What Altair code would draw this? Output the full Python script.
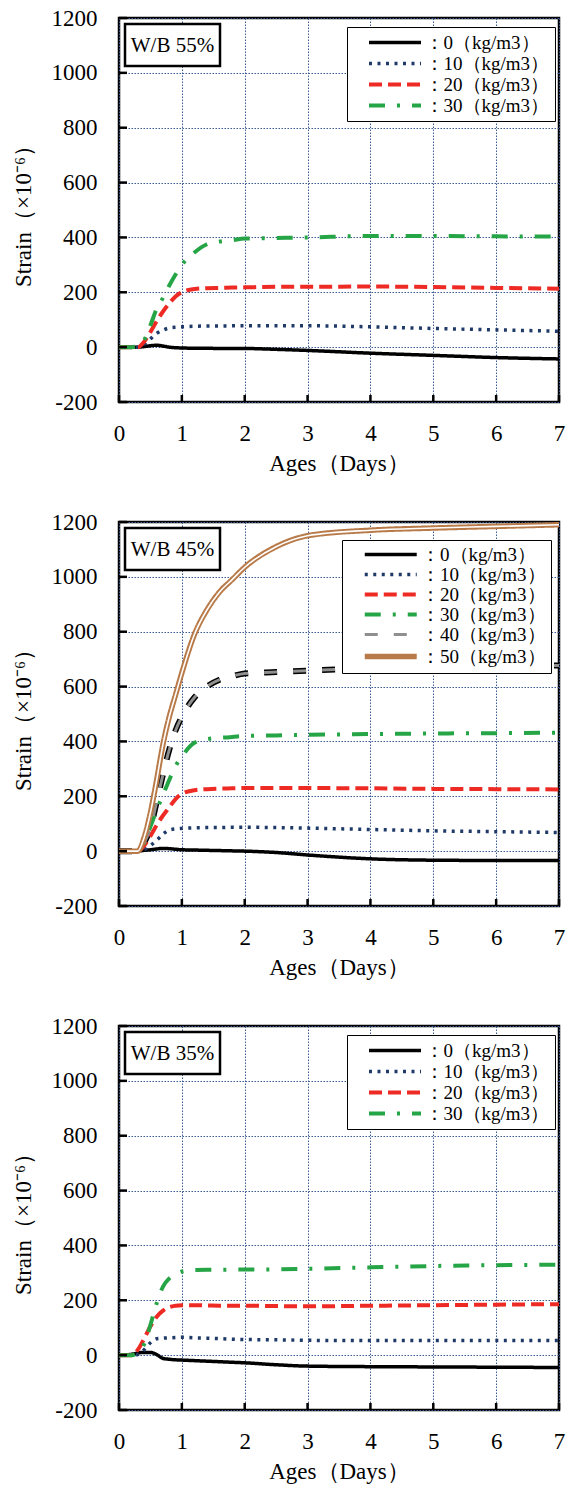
import altair as alt
import pandas as pd

# ---------------- data ----------------
DAYS = [0, 0.2, 0.3, 0.4, 0.5, 0.6, 0.7, 0.8, 0.9, 1.0, 1.2, 1.4, 1.6, 1.8, 2.0, 2.5, 3.0, 4.0, 5.0, 6.0, 7.0]
DOSAGES = ["0", "10", "20", "30", "40", "50"]
SERIES_LABELS = ["：0（kg/m3）", "：10（kg/m3）", "：20（kg/m3）", "：30（kg/m3）", "：40（kg/m3）", "：50（kg/m3）"]
PANEL_TITLES = ["W/B 55%", "W/B 45%", "W/B 35%"]
X_TICKS = [0, 1, 2, 3, 4, 5, 6, 7]
Y_TICKS = [-200, 0, 200, 400, 600, 800, 1000, 1200]

# W/B 55%
WB55_S0 = [0, 0, 0, 2, 5, 7, 4, 0, -2, -3, -4, -4, -5, -5, -5, -8, -12, -22, -30, -38, -43]
WB55_S10 = [0, 0, 0, 10, 30, 50, 62, 70, 73, 74, 76, 77, 77, 78, 78, 78, 78, 74, 68, 63, 58]
WB55_S20 = [0, 0, 0, 20, 55, 95, 130, 160, 185, 200, 212, 215, 216, 217, 218, 220, 220, 221, 219, 216, 213]
WB55_S30 = [0, 0, 5, 25, 80, 140, 180, 225, 265, 300, 345, 375, 385, 390, 396, 398, 400, 405, 405, 404, 403]

# W/B 45%
WB45_S0 = [0, 0, 0, 3, 5, 8, 10, 9, 7, 5, 4, 3, 2, 1, 0, -5, -14, -28, -33, -34, -34]
WB45_S10 = [0, 0, 0, 5, 20, 40, 62, 77, 81, 83, 85, 86, 86, 87, 87, 86, 84, 79, 74, 71, 68]
WB45_S20 = [0, 0, 0, 20, 55, 95, 130, 160, 190, 209, 222, 226, 228, 229, 230, 230, 230, 229, 227, 226, 225]
WB45_S30 = [0, 0, 0, 30, 90, 150, 205, 260, 310, 345, 395, 408, 413, 416, 420, 422, 424, 427, 429, 430, 432]
WB45_S40 = [0, 0, 0, 30, 85, 180, 280, 370, 440, 490, 560, 600, 625, 638, 648, 653, 658, 666, 670, 674, 677]
WB45_S50 = [0, 0, 0, 50, 140, 260, 390, 490, 570, 650, 790, 880, 945, 990, 1035, 1110, 1150, 1170, 1178, 1184, 1190]

# W/B 35%
WB35_S0 = [0, 3, 8, 10, 10, 2, -12, -15, -17, -18, -20, -22, -24, -26, -28, -35, -40, -42, -43, -44, -45]
WB35_S10 = [0, 0, 2, 20, 45, 60, 62, 63, 64, 65, 63, 62, 60, 58, 57, 56, 54, 53, 53, 53, 53]
WB35_S20 = [0, 0, 20, 60, 105, 140, 162, 175, 180, 182, 182, 181, 180, 180, 180, 179, 178, 180, 182, 184, 186]
WB35_S30 = [0, 0, 10, 40, 110, 190, 250, 280, 295, 305, 310, 311, 311, 312, 312, 313, 315, 320, 325, 328, 330]

# ---------------- styles ----------------
COLORS = {"0": "#000000", "10": "#1f3a68", "20": "#ee2a24", "30": "#26a546", "40": "#8f8f8f", "50": "#b87a48"}
DASHES = {"0": [1, 0], "10": [3, 5.5], "20": [13, 6], "30": [16, 12, 3, 12], "40": [13, 16], "50": [1, 0]}
WIDTHS = {"0": 3.5, "10": 3.5, "20": 4, "30": 4, "40": 3, "50": 5.5}

SERIF = "Liberation Serif"
PW, PH = 440, 384


def make_panel(title, series_list, legend_x, legend_y, sym_root, sym_half, sym_off, lab_off):
    rows = []
    for dos, vals in series_list:
        lab = SERIES_LABELS[DOSAGES.index(dos)]
        for d, v in zip(DAYS, vals):
            rows.append({"day": d, "strain": v, "series": lab, "dos": dos})
    df = pd.DataFrame(rows)
    doses = [d for d, _ in series_list]
    labs = [SERIES_LABELS[DOSAGES.index(d)] for d in doses]

    xs = alt.Scale(domain=[0, 7], nice=False, zero=False)
    ys = alt.Scale(domain=[-200, 1200], nice=False, zero=False)
    xaxis = alt.Axis(values=X_TICKS, title="Ages（Days）", labelExpr="'' + datum.value", labelFlush=False)
    yaxis = alt.Axis(values=Y_TICKS, title="Strain（×10⁻⁶）", labelExpr="'' + datum.value")

    legend = alt.Legend(
        orient="none", legendX=legend_x, legendY=legend_y, title=None,
        symbolType=f"M-{sym_half},0H{sym_half}", symbolSize=sym_root * sym_root,
        labelFont=SERIF, labelFontSize=19, labelColor="black",
        fillColor="white", strokeColor="black", padding=5,
        symbolOffset=sym_off, labelOffset=lab_off, rowPadding=0,
    )

    base = alt.Chart(df)
    lines = base.mark_line(interpolate="monotone", strokeCap="butt").encode(
        x=alt.X("day:Q", scale=xs, axis=xaxis),
        y=alt.Y("strain:Q", scale=ys, axis=yaxis),
        color=alt.Color("series:N", scale=alt.Scale(domain=labs, range=[COLORS[d] for d in doses]), legend=legend),
        strokeDash=alt.StrokeDash("series:N", scale=alt.Scale(domain=labs, range=[DASHES[d] for d in doses]), legend=legend),
        strokeWidth=alt.StrokeWidth("series:N", scale=alt.Scale(type="ordinal", domain=labs, range=[WIDTHS[d] for d in doses]), legend=legend),
    )

    layers = []
    if "40" in doses:
        under = base.transform_filter(alt.datum.dos == "40").mark_line(
            interpolate="monotone", strokeCap="butt", color="black", strokeWidth=6, strokeDash=DASHES["40"]
        ).encode(x=alt.X("day:Q", scale=xs, axis=xaxis), y=alt.Y("strain:Q", scale=ys, axis=yaxis))
        layers.append(under)
    layers.append(lines)
    if "50" in doses:
        over = base.transform_filter(alt.datum.dos == "50").mark_line(
            interpolate="monotone", color="white", strokeWidth=1.6
        ).encode(x=alt.X("day:Q", scale=xs, axis=xaxis), y=alt.Y("strain:Q", scale=ys, axis=yaxis))
        layers.append(over)

    yt = alt.Chart(pd.DataFrame({"strain": Y_TICKS})).mark_rule(color="black", strokeWidth=2.5).encode(
        y=alt.Y("strain:Q", scale=ys, axis=yaxis), x=alt.value(0), x2=alt.value(8)
    )
    xt = alt.Chart(pd.DataFrame({"day": X_TICKS})).mark_rule(color="black", strokeWidth=2.5).encode(
        x=alt.X("day:Q", scale=xs, axis=xaxis), y=alt.value(PH), y2=alt.value(PH - 7)
    )
    tdf = pd.DataFrame({"label": [title]})
    box = alt.Chart(tdf).mark_rect(fill="white", stroke="black", strokeWidth=2.5).encode(
        x=alt.value(6), x2=alt.value(101), y=alt.value(6), y2=alt.value(48)
    )
    txt = alt.Chart(tdf).mark_text(font=SERIF, fontSize=21, color="black", align="center", baseline="middle").encode(
        x=alt.value(53.5), y=alt.value(28), text="label:N"
    )
    layers += [yt, xt, box, txt]
    return alt.layer(*layers).properties(width=PW, height=PH)


p1 = make_panel(PANEL_TITLES[0], [("0", WB55_S0), ("10", WB55_S10), ("20", WB55_S20), ("30", WB55_S30)],
                228, 9, 17, 3.06, 32.5, 19)
p2 = make_panel(PANEL_TITLES[1], [("0", WB45_S0), ("10", WB45_S10), ("20", WB45_S20), ("30", WB45_S30),
                                  ("40", WB45_S40), ("50", WB45_S50)], 223, 18, 13.5, 3.85, 34.25, 20.75)
p3 = make_panel(PANEL_TITLES[2], [("0", WB35_S0), ("10", WB35_S10), ("20", WB35_S20), ("30", WB35_S30)],
                228, 9, 17, 3.06, 32.5, 19)

chart = alt.vconcat(p1, p2, p3, spacing=32).resolve_scale(
    color="independent", strokeDash="independent", strokeWidth="independent"
).resolve_legend(color="independent", strokeDash="independent", strokeWidth="independent").properties(
    padding={"left": 10, "top": 5, "right": 0, "bottom": 0}, background="white"
).configure_view(stroke="black", strokeWidth=2.5).configure_axis(
    labelFont=SERIF, labelFontSize=23, labelColor="black",
    titleFont=SERIF, titleFontSize=23, titleFontWeight="normal", titleColor="black",
    domain=False, ticks=False, grid=True, gridColor="#3b5b92", gridDash=[1.5, 1.5], gridWidth=1,
    gridOpacity=1,
).configure_axisX(labelPadding=20, titlePadding=7).configure_axisY(labelPadding=22, titlePadding=16)

chart.save("out.html", embed_options={"renderer": "svg", "actions": False})
